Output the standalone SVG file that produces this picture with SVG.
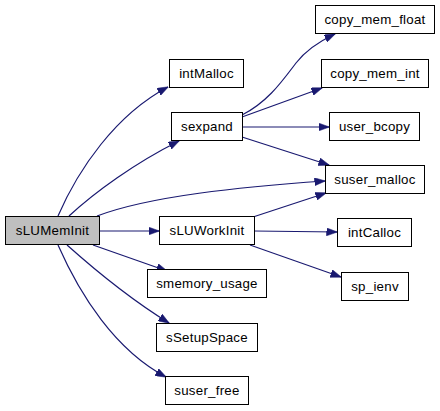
<svg xmlns="http://www.w3.org/2000/svg" width="440" height="411" viewBox="0 0 440 411">
<style>
.node rect{fill:#ffffff;stroke:#000000;stroke-width:1}
.node.root rect{fill:#bfbfbf}
.node text{font-family:"Liberation Sans",Arial,sans-serif;font-size:13.3px;letter-spacing:0.25px;fill:#000000;text-anchor:middle}
.edges path{fill:none;stroke:#191970;stroke-width:1.2;marker-end:url(#arr)}
</style>
<defs>
<marker id="arr" viewBox="0 0 11 8" refX="10.5" refY="4" markerWidth="11" markerHeight="8" markerUnits="userSpaceOnUse" orient="auto">
<path d="M0,0 L11,4 L0,8 z" fill="#191970" stroke="#191970" stroke-width="0.5"/>
</marker>
</defs>
<rect width="440" height="411" fill="#ffffff"/>
<g class="edges" id="edges">
<path d="M58,216 C78,170 115,115 168,87"/>
<path d="M69,216 C95,192 135,163 179,141"/>
<path d="M97,216 C150,196 240,187 325,181"/>
<path d="M99,231 L159,231"/>
<path d="M93,245 L167,271"/>
<path d="M67,245 C95,270 135,302 169,323"/>
<path d="M58,245 C80,295 115,350 166,377"/>
<path d="M242,115 C268,102 283,80 296,63 C306,50 318,42 335,34"/>
<path d="M242,117 L322,88"/>
<path d="M242,127 L329,127"/>
<path d="M242,137 L329,165"/>
<path d="M253,217 L326,193"/>
<path d="M254,231 L337,232"/>
<path d="M250,245 L341,277"/>
</g>
<g class="node root" id="sLUMemInit"><rect x="5.5" y="216.5" width="94" height="28"/><text x="52.5" y="235">sLUMemInit</text></g>
<g class="node" id="intMalloc"><rect x="169.5" y="59.5" width="74" height="28"/><text x="206.5" y="78">intMalloc</text></g>
<g class="node" id="sexpand"><rect x="171.5" y="112.5" width="71" height="28"/><text x="207" y="131">sexpand</text></g>
<g class="node" id="copy_mem_float"><rect x="315.5" y="5.5" width="119" height="28"/><text x="375" y="24">copy_mem_float</text></g>
<g class="node" id="copy_mem_int"><rect x="321.5" y="59.5" width="107" height="28"/><text x="375" y="78">copy_mem_int</text></g>
<g class="node" id="user_bcopy"><rect x="329.5" y="112.5" width="90" height="28"/><text x="374.5" y="131">user_bcopy</text></g>
<g class="node" id="suser_malloc"><rect x="325.5" y="165.5" width="99" height="28"/><text x="375" y="184">suser_malloc</text></g>
<g class="node" id="sLUWorkInit"><rect x="159.5" y="216.5" width="95" height="28"/><text x="207" y="235">sLUWorkInit</text></g>
<g class="node" id="intCalloc"><rect x="337.5" y="218.5" width="74" height="28"/><text x="374.5" y="237">intCalloc</text></g>
<g class="node" id="sp_ienv"><rect x="341.5" y="272.5" width="67" height="28"/><text x="375" y="291">sp_ienv</text></g>
<g class="node" id="smemory_usage"><rect x="147.5" y="269.5" width="119" height="28"/><text x="207" y="288">smemory_usage</text></g>
<g class="node" id="sSetupSpace"><rect x="156.5" y="323.5" width="101" height="28"/><text x="207" y="342">sSetupSpace</text></g>
<g class="node" id="suser_free"><rect x="165.5" y="376.5" width="83" height="28"/><text x="207" y="395">suser_free</text></g>
</svg>
